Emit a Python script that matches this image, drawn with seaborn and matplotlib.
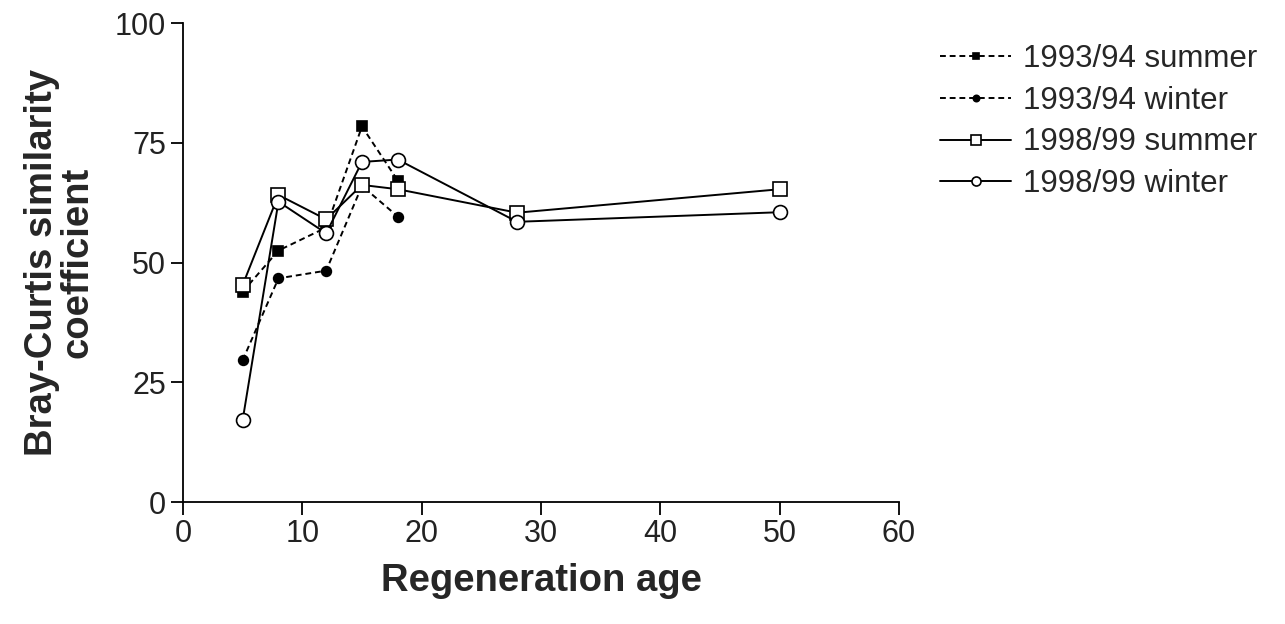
#!/usr/bin/env python3

import matplotlib

matplotlib.use("Agg")
import matplotlib.pyplot as plt
import pandas as pd
import seaborn as sns

# Regeneration ages sampled in each survey
age_9394 = [5, 8, 12, 15, 18]
age_9899 = [5, 8, 12, 15, 18, 28, 50]

# Bray-Curtis similarity values
summer_9394 = [43.9, 52.5, 57.3, 78.4, 67.1]
winter_9394 = [29.6, 46.7, 48.3, 66.0, 59.6]
summer_9899 = [45.3, 64.1, 59.0, 66.2, 65.3, 60.4, 65.3]
winter_9899 = [17.1, 62.7, 56.1, 71.0, 71.5, 58.5, 60.5]

labels = ["1993/94 summer", "1993/94 winter", "1998/99 summer", "1998/99 winter"]
x_ticks = [0, 10, 20, 30, 40, 50, 60]
y_ticks = [0, 25, 50, 75, 100]

sns.set_theme(style="ticks")
plt.rcParams["font.family"] = ["Liberation Sans", "DejaVu Sans"]


def main():
    fig = plt.figure(figsize=(12.85, 6.24), dpi=100)
    ax = fig.add_axes([0.1424, 0.1955, 0.5572, 0.7676])

    series = [
        (age_9394, summer_9394, "s", "black", (0, (3, 2)), 7),
        (age_9394, winter_9394, "o", "black", (0, (3, 2)), 7),
        (age_9899, summer_9899, "s", "white", "-", 10),
        (age_9899, winter_9899, "o", "white", "-", 10),
    ]
    for (x, y, marker, face, ls, ms), label in zip(series, labels):
        df = pd.DataFrame({"age": x, "value": y})
        sns.lineplot(
            data=df,
            x="age",
            y="value",
            ax=ax,
            color="black",
            linestyle=ls,
            linewidth=1.4,
            marker=marker,
            markersize=ms,
            markerfacecolor=face,
            markeredgecolor="black",
            markeredgewidth=1.2,
            estimator=None,
            sort=False,
            label=label,
        )

    ax.set_xlim(0, 60)
    ax.set_ylim(0, 100)
    ax.set_xticks(x_ticks)
    ax.set_yticks(y_ticks)
    ax.tick_params(
        axis="both", direction="out", length=9, width=1.3, color="black",
        labelsize=22, pad=3, labelcolor="#222222",
    )
    for side in ["top", "right"]:
        ax.spines[side].set_visible(False)
    for side in ["left", "bottom"]:
        ax.spines[side].set_linewidth(1.3)
        ax.spines[side].set_color("black")

    ax.set_xlabel("Regeneration age", fontsize=27.5, fontweight="bold", labelpad=10)
    ax.set_ylabel(
        "Bray-Curtis similarity\ncoefficient",
        fontsize=27.5,
        fontweight="bold",
        labelpad=14,
        linespacing=1.0,
    )

    handles, labs = ax.get_legend_handles_labels()
    ax.get_legend().remove()
    fig.legend(
        handles,
        labs,
        loc="upper left",
        bbox_to_anchor=(0.710, 0.975),
        frameon=False,
        fontsize=22.5,
        handlelength=2.25,
        handletextpad=0.38,
        labelspacing=0.38,
        markerscale=0.65,
        numpoints=1,
    )

    fig.savefig("out.png", dpi=100, facecolor="white")


if __name__ == "__main__":
    main()
